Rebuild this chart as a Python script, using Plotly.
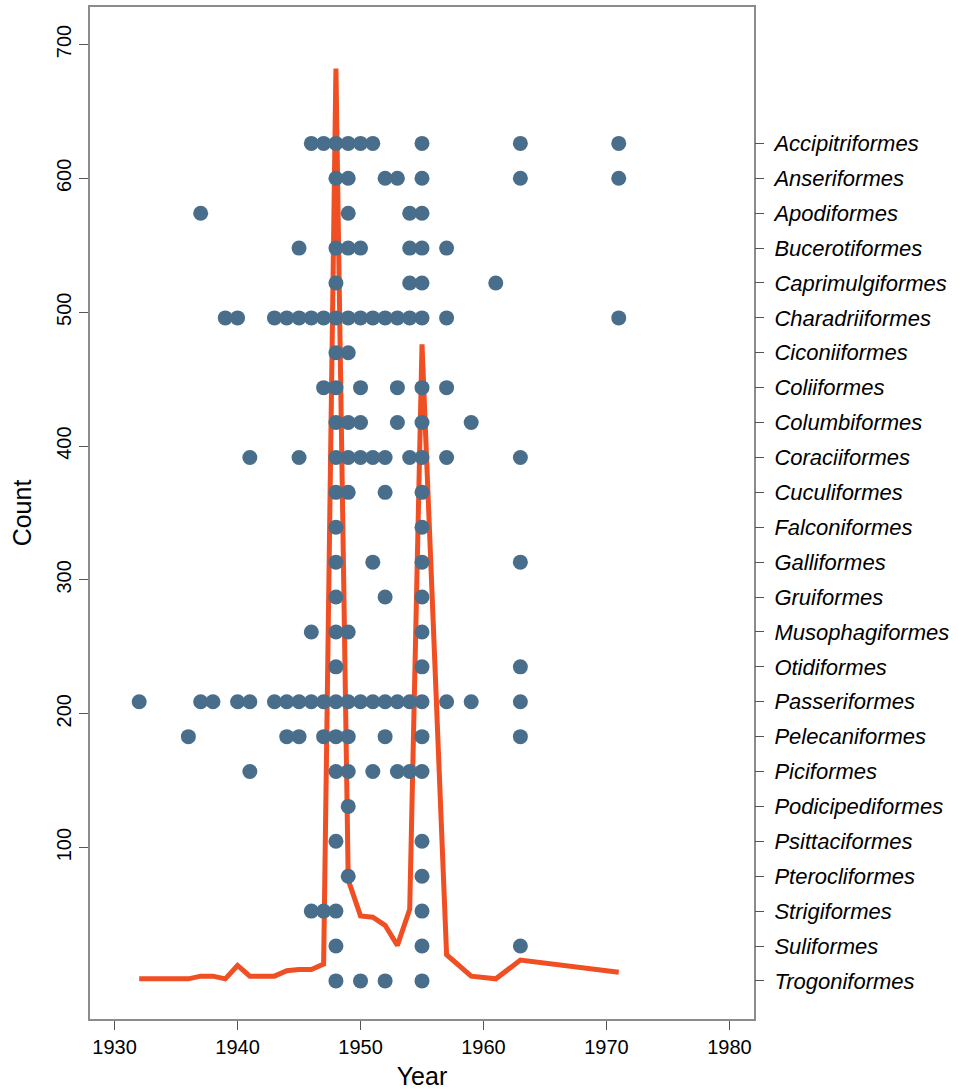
import plotly.graph_objects as go

# ---- data ----
orders = ["Trogoniformes", "Suliformes", "Strigiformes", "Pterocliformes", "Psittaciformes",
          "Podicipediformes", "Piciformes", "Pelecaniformes", "Passeriformes", "Otidiformes",
          "Musophagiformes", "Gruiformes", "Galliformes", "Falconiformes", "Cuculiformes",
          "Coraciiformes", "Columbiformes", "Coliiformes", "Ciconiiformes", "Charadriiformes",
          "Caprimulgiformes", "Bucerotiformes", "Apodiformes", "Anseriformes", "Accipitriformes"]

order_years = [
    [1948, 1950, 1952, 1955],                                   # Trogoniformes
    [1948, 1955, 1963],                                         # Suliformes
    [1946, 1947, 1948, 1955],                                   # Strigiformes
    [1949, 1955],                                               # Pterocliformes
    [1948, 1955],                                               # Psittaciformes
    [1949],                                                     # Podicipediformes
    [1941, 1948, 1949, 1951, 1953, 1954, 1955],                 # Piciformes
    [1936, 1944, 1945, 1947, 1948, 1949, 1952, 1955, 1963],     # Pelecaniformes
    [1932, 1937, 1938, 1940, 1941, 1943, 1944, 1945, 1946, 1947, 1948, 1949,
     1950, 1951, 1952, 1953, 1954, 1955, 1957, 1959, 1963],     # Passeriformes
    [1948, 1955, 1963],                                         # Otidiformes
    [1946, 1948, 1949, 1955],                                   # Musophagiformes
    [1948, 1952, 1955],                                         # Gruiformes
    [1948, 1951, 1955, 1963],                                   # Galliformes
    [1948, 1955],                                               # Falconiformes
    [1948, 1949, 1952, 1955],                                   # Cuculiformes
    [1941, 1945, 1948, 1949, 1950, 1951, 1952, 1954, 1955, 1957, 1963],  # Coraciiformes
    [1948, 1949, 1950, 1953, 1955, 1959],                       # Columbiformes
    [1947, 1948, 1950, 1953, 1955, 1957],                       # Coliiformes
    [1948, 1949],                                               # Ciconiiformes
    [1939, 1940, 1943, 1944, 1945, 1946, 1947, 1948, 1949, 1950, 1951, 1952,
     1953, 1954, 1955, 1957, 1971],                             # Charadriiformes
    [1948, 1954, 1955, 1961],                                   # Caprimulgiformes
    [1945, 1948, 1949, 1950, 1954, 1955, 1957],                 # Bucerotiformes
    [1937, 1949, 1954, 1955],                                   # Apodiformes
    [1948, 1949, 1952, 1953, 1955, 1963, 1971],                 # Anseriformes
    [1946, 1947, 1948, 1949, 1950, 1951, 1955, 1963, 1971],     # Accipitriformes
]

count_years = [1932, 1936, 1937, 1938, 1939, 1940, 1941, 1943, 1944, 1945, 1946, 1947,
               1948, 1949, 1950, 1951, 1952, 1953, 1954, 1955, 1957, 1959, 1961, 1963, 1971]
counts = [2, 2, 4, 4, 2, 12, 4, 4, 8, 9, 9, 13,
          682, 76, 49, 48, 42, 27, 54, 476, 20, 4, 2, 16, 7]

x_ticks = [1930, 1940, 1950, 1960, 1970, 1980]
y_ticks = [100, 200, 300, 400, 500, 600, 700]

# ---- figure ----
DOT = "#486e8b"
RED = "#f04e23"
FRAME = "#8c8c8c"

fig = go.Figure()

fig.add_trace(go.Scatter(
    x=count_years, y=counts, mode="lines",
    line=dict(color=RED, width=5),
    hoverinfo="skip", showlegend=False, yaxis="y"))

px, py = [], []
for i, yrs in enumerate(order_years):
    for yr in yrs:
        px.append(yr)
        py.append(i)
fig.add_trace(go.Scatter(
    x=px, y=py, mode="markers",
    marker=dict(color=DOT, size=15, line=dict(width=0)),
    showlegend=False, yaxis="y2"))

fig.update_layout(
    width=959, height=1090, autosize=False,
    margin=dict(l=90, r=205, t=7, b=71),
    paper_bgcolor="white", plot_bgcolor="white",
    font=dict(family="Liberation Sans, Arial, sans-serif", size=20, color="black"),
    showlegend=False,
    xaxis=dict(
        range=[1928, 1982], tickmode="array", tickvals=x_ticks,
        ticks="outside", ticklen=9, tickcolor="#555555", tickwidth=1.2,
        showline=True, linecolor=FRAME, linewidth=1.5, mirror=True,
        showgrid=False, zeroline=False, automargin=False,
        tickfont=dict(size=20),
        title=dict(text="Year", font=dict(size=25), standoff=16),
    ),
    yaxis=dict(
        range=[-28, 728], tickmode="array", tickvals=y_ticks,
        ticks="outside", ticklen=9, tickcolor="#555555", tickwidth=1.2,
        tickangle=-90,
        showline=True, linecolor=FRAME, linewidth=1.5, mirror=True,
        showgrid=False, zeroline=False, automargin=False,
        tickfont=dict(size=20),
        title=dict(text="Count", font=dict(size=25), standoff=15),
    ),
    yaxis2=dict(
        overlaying="y", side="right",
        range=[-1.092, 27.909], tickmode="array",
        tickvals=list(range(len(orders))), ticktext=orders,
        ticks="outside", ticklen=9, tickcolor="#555555", tickwidth=1.2,
        ticklabelstandoff=6, automargin=False,
        showline=False, showgrid=False, zeroline=False,
        tickfont=dict(size=22, family="Liberation Sans, Arial, sans-serif", style="italic"),
    ),
)

fig.write_html("out.html", config={"displayModeBar": False},
               post_script="document.body.style.margin='0';")
